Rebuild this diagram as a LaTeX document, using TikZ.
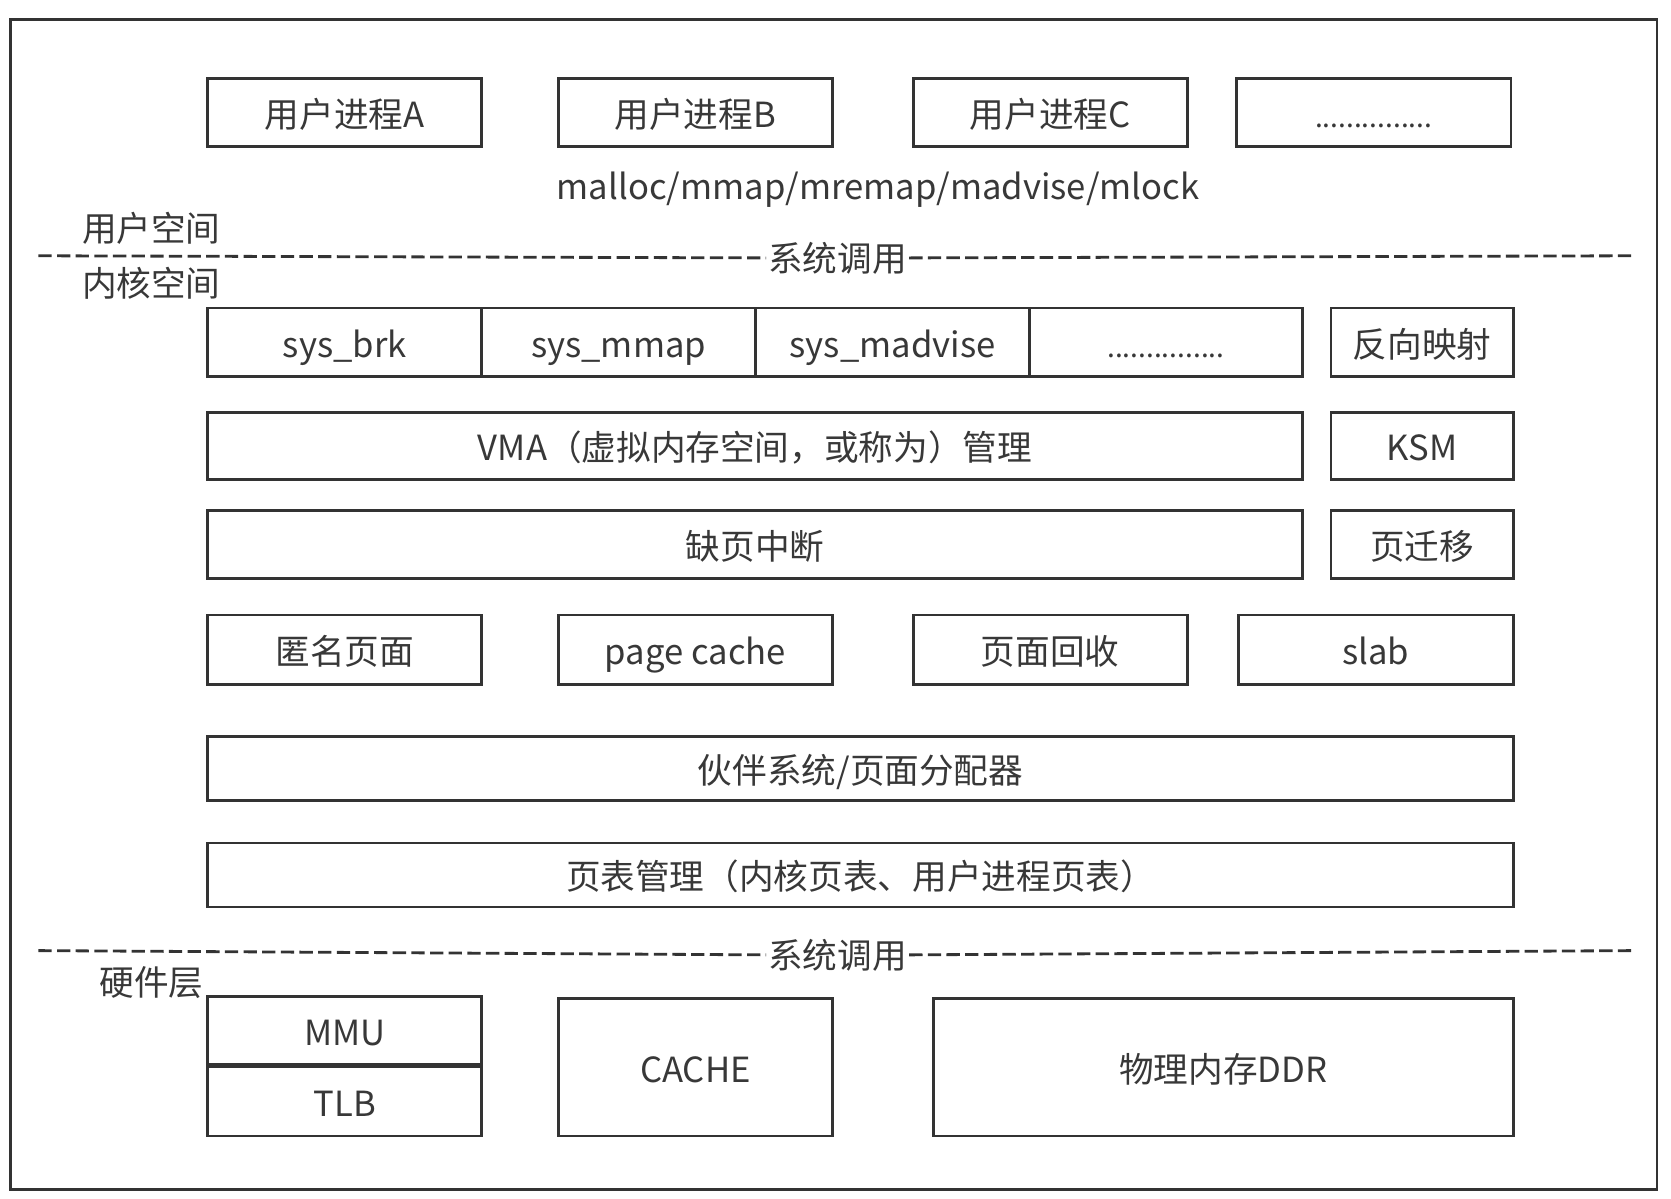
\documentclass[tikz,border=0pt]{standalone}
\usepackage{fontspec}
\setmainfont{Noto Sans CJK SC}
\usetikzlibrary{positioning}
\definecolor{linegray}{HTML}{333333}
\definecolor{textgray}{HTML}{383838}
\begin{document}
\begin{tikzpicture}[x=0.2mm,y=-0.2mm,
  box/.style={draw=linegray, line width=1.4pt, inner sep=0pt, text=textgray,
    font=\fontsize{18.5pt}{22pt}\selectfont, text height=18pt, text depth=2pt,
    minimum width=51.4mm, minimum height=12.8mm},
  dots/.style={font=\fontsize{15pt}{18pt}\selectfont},
  lbl/.style={text=textgray, font=\fontsize{18.5pt}{22pt}\selectfont, inner sep=1pt},
  sep/.style={draw=linegray, line width=1.5pt, dash pattern=on 2.5mm off 1mm}]
\useasboundingbox (0,0) rectangle (1568,1125);
\draw [linegray, line width=1.4pt] (10,18) rectangle (1555,1116);
% user space
\node [box] (procA) at (323.5,105.5) {用户进程A};
\node [box] (procB) at (652.5,105.5) {用户进程B};
\node [box] (procC) at (985.5,105.5) {用户进程C};
\node [box, dots, minimum width=51.6mm] (procX) at (1289,105.5) {...............};
\node [lbl] (libc) at (824,178) {malloc/mmap/mremap/madvise/mlock};
\node [lbl] (userspace) at (142,214) {用户空间};
\node [lbl] (call1) at (786,242) {系统调用};
\coordinate (c1l) at (36,240);
\coordinate (c1r) at (1532,240);
\draw [sep] (c1l) -- (call1.west);
\draw [sep] (call1.east) -- (c1r);
\node [lbl] (kernelspace) at (142,266) {内核空间};
% kernel
\node [box] (brk) at (323.5,321) {sys\_brk};
\node [box] (mmap) at (580.5,321) {sys\_mmap};
\node [box] (madvise) at (837.5,321) {sys\_madvise};
\node [box, dots, minimum width=51.2mm] (sysX) at (1094,321) {...............};
\node [box, minimum width=34.2mm] (rmap) at (1334.5,321) {反向映射};
\node [box, minimum width=205.4mm, minimum height=12.6mm] (vma) at (708.5,418.5) {VMA（虚拟内存空间，或称为）管理};
\node [box, minimum width=34.2mm, minimum height=12.6mm] (ksm) at (1334.5,418.5) {KSM};
\node [box, minimum width=205.4mm] (fault) at (708.5,511) {缺页中断};
\node [box, minimum width=34.2mm] (migrate) at (1334.5,511) {页迁移};
\node [box, minimum height=13mm] (anon) at (323.5,609.5) {匿名页面};
\node [box, minimum height=13mm] (pcache) at (652.5,609.5) {page cache};
\node [box, minimum height=13mm] (reclaim) at (985.5,609.5) {页面回收};
\node [box, minimum width=51.6mm, minimum height=13mm] (slab) at (1291,609.5) {slab};
\node [box, minimum width=245mm, minimum height=12mm] (buddy) at (807.5,721) {伙伴系统/页面分配器};
\node [box, minimum width=245mm, minimum height=12mm] (ptable) at (807.5,821) {页表管理（内核页表、用户进程页表）};
\node [lbl] (call2) at (786,896) {系统调用};
\coordinate (c2l) at (36,892);
\coordinate (c2r) at (1532,892);
\draw [sep] (c2l) -- (call2.west);
\draw [sep] (call2.east) -- (c2r);
% hardware
\node [lbl] (hwlayer) at (142,922) {硬件层};
\node [box] (mmu) at (323.5,967) {MMU};
\node [box, minimum height=13mm] (tlb) at (323.5,1033.5) {TLB};
\node [box, minimum height=25.8mm] (cache) at (652.5,1001.5) {CACHE};
\node [box, minimum width=108.8mm, minimum height=25.8mm] (ddr) at (1148,1001.5) {物理内存DDR};
\end{tikzpicture}
\end{document}
